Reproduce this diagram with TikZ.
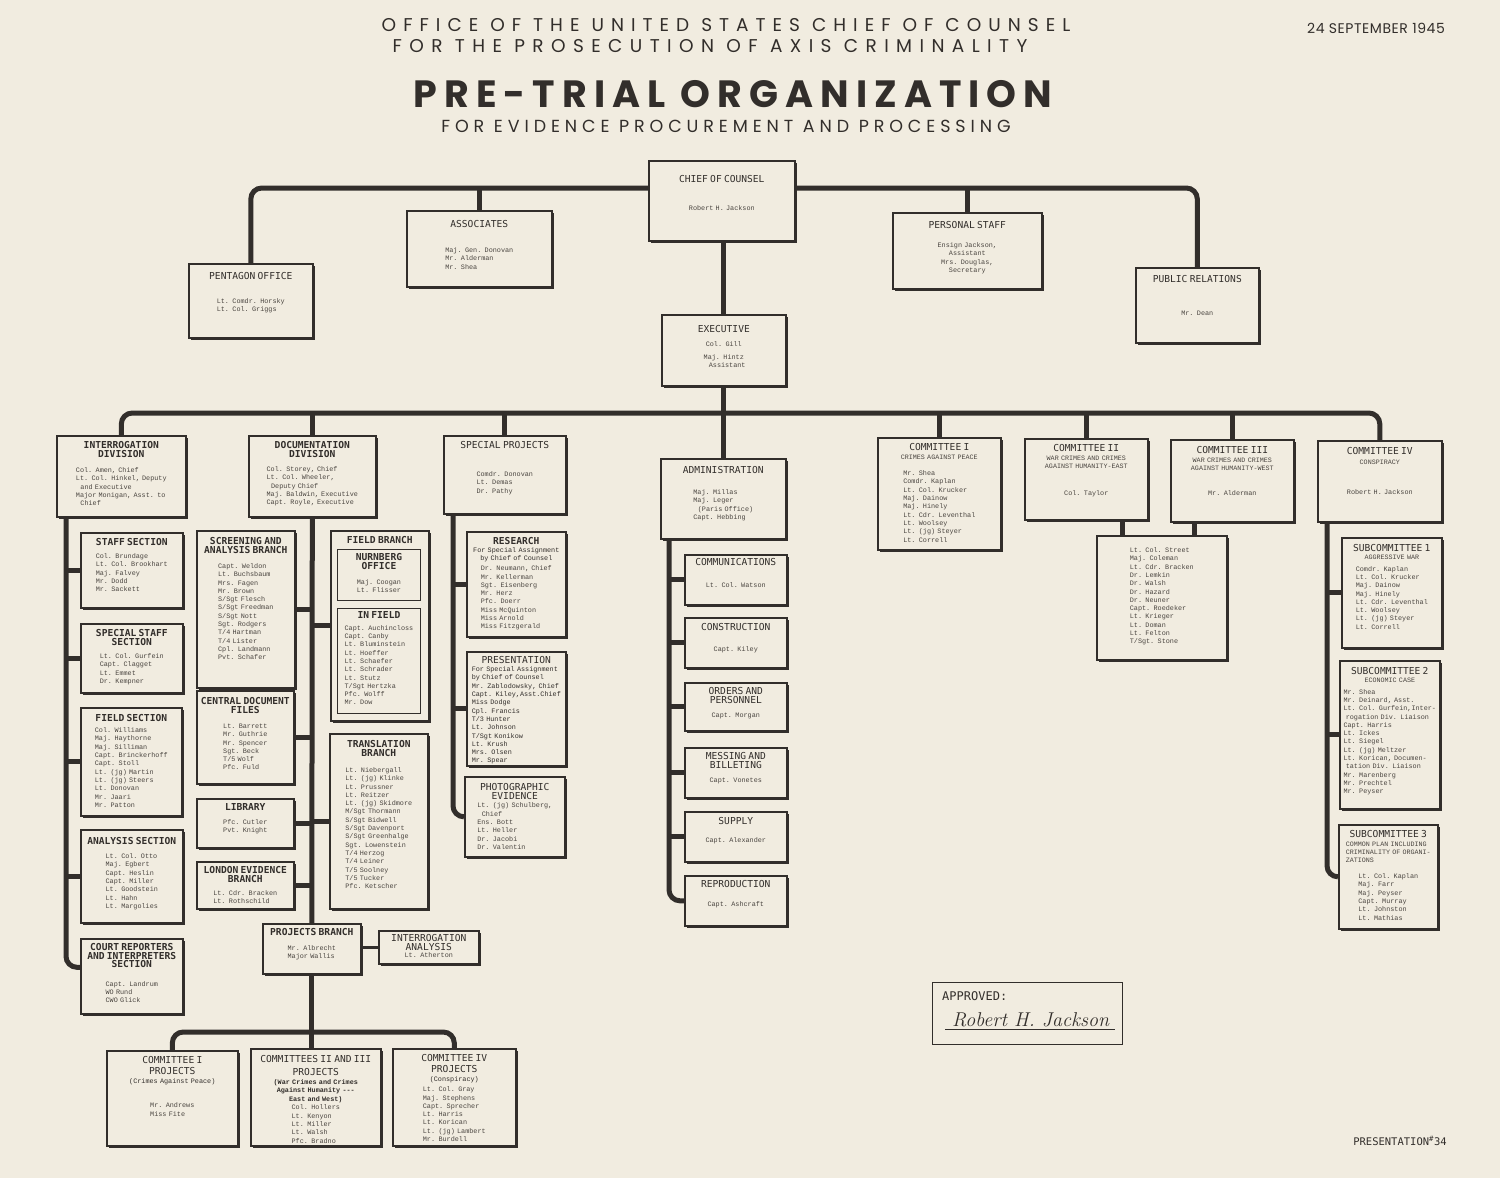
\documentclass[tikz,border=0pt]{standalone}
\usepackage{fontspec}
\usepackage{tikz}
\usetikzlibrary{shadows}
\newfontfamily\capsf{Poppins}
\newfontfamily\letf{DejaVu Sans Mono}
\newfontfamily\typef{Liberation Mono}
\definecolor{paper}{RGB}{241,236,224}
\definecolor{ink}{RGB}{50,46,43}
\definecolor{type}{RGB}{74,69,64}
\newcommand{\boxbody}{\typef\fontsize{6.8}{8.3}\selectfont}
\newcommand{\boxsub}{\typef\fontsize{6.7}{8}\selectfont}
\newcommand{\boxhead}{\leavevmode\color{ink}\letf\fontsize{9.6}{8.8}\selectfont}
\newcommand{\boxheadb}{\leavevmode\color{ink}\letf\bfseries\fontsize{9.6}{8.8}\selectfont}
\newcommand{\namelist}[1]{\begin{tabular}[t]{@{}l@{}}#1\end{tabular}}
\tikzset{unit/.style = {draw=ink, line width=1.6pt, fill=paper, anchor=north west,
                        inner sep=0pt, align=center, font=\boxbody, text=type,
                        drop shadow={shadow xshift=2.2pt, shadow yshift=-2.2pt, fill=ink, opacity=1}}}
\tikzset{inset/.style = {draw=ink, line width=0.9pt, fill=paper, anchor=north west,
                         inner sep=0pt, align=center, font=\boxbody, text=type}}
\tikzset{bar/.style = {draw=ink, line width=5pt, rounded corners=11pt}}
\tikzset{link/.style = {draw=ink, line width=3pt}}
\tikzset{banner/.style = {text=ink, inner sep=0pt,
                          font=\capsf\fontsize{18.5}{20}\selectfont\addfontfeature{LetterSpace=38}}}

\begin{document}
\begin{tikzpicture}[x=1pt, y=-1pt]
      \useasboundingbox (0, 0) rectangle (1500, 1178);
      \fill [paper] (0, 0) rectangle (1500, 1178);

      % heading
      \node [banner] (office) at (726, 25) {OFFICE OF THE UNITED STATES CHIEF OF COUNSEL};
      \node [banner, font=\capsf\fontsize{18.5}{20}\selectfont\addfontfeature{LetterSpace=40}] (prosec) at (710, 46) {FOR THE PROSECUTION OF AXIS CRIMINALITY};
      \node [banner, font=\capsf\fontsize{14}{16}\selectfont\addfontfeature{LetterSpace=4}] (date) at (1376, 28) {24 SEPTEMBER 1945};
      \node [banner, font=\capsf\bfseries\fontsize{38}{40}\selectfont\addfontfeature{LetterSpace=18.5}] (title) at (733, 94) {PRE-TRIAL ORGANIZATION};
      \node [banner, font=\capsf\fontsize{17.5}{20}\selectfont\addfontfeature{LetterSpace=28}] (subtitle) at (726, 126) {FOR EVIDENCE PROCUREMENT AND PROCESSING};

      % top level
      \node [unit, text width=146pt, text height=21.5pt, text depth=58.5pt] (chief) at (648, 160) {{\boxhead CHIEF OF COUNSEL\par}\vspace{20pt}Robert H. Jackson};
      \node [unit, text width=145pt, text height=16.5pt, text depth=59.5pt] (assoc) at (406, 210) {{\boxhead ASSOCIATES\par}\vspace{17pt}\namelist{Maj. Gen. Donovan\\Mr. Alderman\\Mr. Shea}};
      \node [unit, text width=149pt, text height=15.5pt, text depth=60.5pt] (staffp) at (892, 212) {{\boxhead PERSONAL STAFF\par}\vspace{11pt}Ensign Jackson,\\Assistant\\Mrs. Douglas,\\Secretary};
      \node [unit, text width=124pt, text height=15.5pt, text depth=58.5pt] (pentagon) at (188, 263) {{\boxhead PENTAGON OFFICE\par}\vspace{16pt}\namelist{Lt. Comdr. Horsky\\Lt. Col. Griggs}};
      \node [unit, text width=123pt, text height=14.5pt, text depth=60.5pt] (public) at (1135, 267) {{\boxhead PUBLIC RELATIONS\par}\vspace{25pt}Mr. Dean};
      \node [unit, text width=124pt, text height=17.5pt, text depth=53.5pt] (exec) at (661, 314) {{\boxhead EXECUTIVE\par}\vspace{6pt}Col. Gill\\[4.5pt]Maj. Hintz\\~~~Assistant};

      \coordinate (topbar) at (0, 188);
      \draw [bar] (pentagon.north) |- (chief.west |- topbar);
      \draw [bar] (chief.east |- topbar) -| (public.north);
      \draw [bar] (assoc.north) -- (assoc.north |- topbar);
      \draw [bar] (staffp.north) -- (staffp.north |- topbar);
      \draw [bar] (exec.north |- chief.south) -- (exec.north);

      % divisions
      \node [unit, text width=129pt, text height=12.5pt, text depth=68.5pt] (interr) at (56, 435) {{\boxheadb INTERROGATION\\DIVISION\par}\vspace{7pt}\namelist{Col. Amen, Chief\\Lt. Col. Hinkel, Deputy\\~~and Executive\\Major Monigan, Asst. to\\~~Chief}};
      \node [unit, text width=127pt, text height=12.5pt, text depth=68.5pt] (docu) at (248, 435) {{\boxheadb DOCUMENTATION\\DIVISION\par}\vspace{6pt}\namelist{Col. Storey, Chief\\Lt. Col. Wheeler,\\~~Deputy Chief\\Maj. Baldwin, Executive\\Capt. Royle, Executive}};
      \node [unit, text width=122pt, text height=12.5pt, text depth=65.5pt] (special) at (443, 435) {{\boxhead SPECIAL PROJECTS\par}\vspace{20pt}\namelist{Comdr. Donovan\\Lt. Demas\\Dr. Pathy}};
      \node [unit, text width=125pt, text height=14.5pt, text depth=65.5pt] (admin) at (660, 458) {{\boxhead ADMINISTRATION\par}\vspace{13pt}\namelist{Maj. Millas\\Maj. Leger\\~~(Paris Office)\\Capt. Hebbing}};
      \node [unit, text width=123pt, text height=12.5pt, text depth=99.5pt] (comI) at (877, 437) {{\boxhead COMMITTEE I\par}\vspace{1pt}{\boxsub CRIMES AGAINST PEACE\par}\vspace{8pt}\namelist{Mr. Shea\\Comdr. Kaplan\\Lt. Col. Krucker\\Maj. Dainow\\Maj. Hinely\\Lt. Cdr. Leventhal\\Lt. Woolsey\\Lt. (jg) Steyer\\Lt. Correll}};
      \node [unit, text width=123pt, text height=12.5pt, text depth=68.5pt] (comII) at (1024, 438) {{\boxhead COMMITTEE II\par}\vspace{1pt}{\boxsub WAR CRIMES AND CRIMES\\AGAINST HUMANITY-EAST\par}\vspace{19pt}Col. Taylor};
      \node [unit, text width=123pt, text height=13.5pt, text depth=68.5pt] (comIII) at (1170, 439) {{\boxhead COMMITTEE III\par}\vspace{1pt}{\boxsub WAR CRIMES AND CRIMES\\AGAINST HUMANITY-WEST\par}\vspace{17pt}Mr. Alderman};
      \node [unit, text width=124pt, text height=13.5pt, text depth=67.5pt] (comIV) at (1317, 440) {{\boxhead COMMITTEE IV\par}\vspace{2pt}{\boxsub CONSPIRACY\par}\vspace{22pt}Robert H. Jackson};
      \node [unit, text width=130pt, text height=16.7pt, text depth=107.3pt] (joint) at (1096, 535) {\namelist{Lt. Col. Street\\Maj. Coleman\\Lt. Cdr. Bracken\\Dr. Lemkin\\Dr. Walsh\\Dr. Hazard\\Dr. Neuner\\Capt. Roedeker\\Lt. Krieger\\Lt. Doman\\Lt. Felton\\T/Sgt. Stone}};

      \coordinate (midbar) at (0, 413);
      \draw [bar] (interr.north) |- (comIV.north |- midbar) -- (comIV.north);
      \draw [bar] (exec.south) -- (exec.south |- admin.north);
      \foreach \n in {docu, special, comI, comII, comIII}
        \draw [bar] (\n.north) -- (\n.north |- midbar);
      \coordinate (jointa) at ([xshift=26pt]joint.north west);
      \coordinate (jointb) at ([xshift=-33pt]joint.north east);
      \draw [bar] (jointa) -- (jointa |- comII.south);
      \draw [bar] (jointb) -- (jointb |- comIII.south);

      % interrogation division
      \node [unit, text width=102pt, text height=12.5pt, text depth=62.5pt] (staff) at (80, 532) {{\boxheadb STAFF SECTION\par}\vspace{5pt}\namelist{Col. Brundage\\Lt. Col. Brookhart\\Maj. Falvey\\Mr. Dodd\\Mr. Sackett}};
      \node [unit, text width=102pt, text height=12.5pt, text depth=56.5pt] (spstaff) at (80, 623) {{\boxheadb SPECIAL STAFF\\SECTION\par}\vspace{5pt}\namelist{Lt. Col. Gurfein\\Capt. Clagget\\Lt. Emmet\\Dr. Kempner}};
      \node [unit, text width=101pt, text height=13.5pt, text depth=94.5pt] (fieldsec) at (80, 707) {{\boxheadb FIELD SECTION\par}\vspace{3pt}\namelist{Col. Williams\\Maj. Haythorne\\Maj. Silliman\\Capt. Brinckerhoff\\Capt. Stoll\\Lt. (jg) Martin\\Lt. (jg) Steers\\Lt. Donovan\\Mr. Jaari\\Mr. Patton}};
      \node [unit, text width=102pt, text height=14.5pt, text depth=78.5pt] (analysis) at (80, 829) {{\boxheadb ANALYSIS SECTION\par}\vspace{6pt}\namelist{Lt. Col. Otto\\Maj. Egbert\\Capt. Heslin\\Capt. Miller\\Lt. Goodstein\\Lt. Hahn\\Lt. Margolies}};
      \node [unit, text width=102pt, text height=11.5pt, text depth=63.5pt] (court) at (80, 938) {{\boxheadb COURT REPORTERS\\AND INTERPRETERS\\SECTION\par}\vspace{10pt}\namelist{Capt. Landrum\\WO Rund\\CWO Glick}};

      \coordinate (ispine) at ([xshift=10pt]interr.south west);
      \draw [bar] (ispine) |- ([yshift=9pt]court.west);
      \foreach \n in {staff, spstaff, fieldsec, analysis}
        \draw [bar] (\n.west) -- (\n.west -| ispine);

      % documentation division
      \node [unit, text width=98pt, text height=13.5pt, text depth=143.5pt] (screen) at (196, 530) {{\boxheadb SCREENING AND\\ANALYSIS BRANCH\par}\vspace{7pt}\namelist{Capt. Weldon\\Lt. Buchsbaum\\Mrs. Fagen\\Mr. Brown\\S/Sgt Flesch\\S/Sgt Freedman\\S/Sgt Nott\\Sgt. Rodgers\\T/4 Hartman\\T/4 Lister\\Cpl. Landmann\\Pvt. Schafer}};
      \node [unit, text width=97pt, text height=13.5pt, text depth=79.5pt] (central) at (196, 690) {{\boxheadb CENTRAL DOCUMENT\\FILES\par}\vspace{7pt}\namelist{Lt. Barrett\\Mr. Guthrie\\Mr. Spencer\\Sgt. Beck\\T/5 Wolf\\Pfc. Fuld}};
      \node [unit, text width=97pt, text height=11.5pt, text depth=37.5pt] (library) at (196, 798) {{\boxheadb LIBRARY\par}\vspace{6pt}\namelist{Pfc. Cutler\\Pvt. Knight}};
      \node [unit, text width=97pt, text height=11.5pt, text depth=35.5pt] (london) at (196, 861) {{\boxheadb LONDON EVIDENCE\\BRANCH\par}\vspace{5pt}\namelist{Lt. Cdr. Bracken\\Lt. Rothschild}};
      \node [unit, text width=98pt, text height=12.5pt, text depth=177.5pt] (fieldbr) at (330, 530) {{\boxheadb FIELD BRANCH\par}};
      \node [inset, text width=83pt, text height=11.5pt, text depth=39.5pt] (nurnberg) at (337, 549) {{\boxheadb NURNBERG\\OFFICE\par}\vspace{6pt}\namelist{Maj. Coogan\\Lt. Flisser}};
      \node [inset, text width=83pt, text height=10.5pt, text depth=94.5pt] (infield) at (337, 608) {{\boxheadb IN FIELD\par}\vspace{3pt}\namelist{Capt. Auchincloss\\Capt. Canby\\Lt. Bluminstein\\Lt. Hoeffer\\Lt. Schaefer\\Lt. Schrader\\Lt. Stutz\\T/Sgt Hertzka\\Pfc. Wolff\\Mr. Dow}};
      \node [unit, text width=98pt, text height=13.5pt, text depth=161.5pt] (transl) at (329, 733) {{\boxheadb TRANSLATION\\BRANCH\par}\vspace{8pt}\namelist{Lt. Niebergall\\Lt. (jg) Klinke\\Lt. Prussner\\Lt. Reitzer\\Lt. (jg) Skidmore\\M/Sgt Thormann\\S/Sgt Bidwell\\S/Sgt Davenport\\S/Sgt Greenhalge\\Sgt. Lowenstein\\T/4 Herzog\\T/4 Leiner\\T/5 Soolney\\T/5 Tucker\\Pfc. Ketscher}};
      \node [unit, text width=98pt, text height=11.5pt, text depth=38.5pt] (projbr) at (262, 923) {{\boxheadb PROJECTS BRANCH\par}\vspace{7pt}\namelist{Mr. Albrecht\\Major Wallis}};
      \node [unit, text width=100pt, text height=10.5pt, text depth=22.5pt] (ianal) at (378, 930) {{\boxhead INTERROGATION\\ANALYSIS\par}\vspace{-1pt}Lt. Atherton};

      \draw [bar] (docu.south) -- (projbr.north);
      \foreach \n in {screen, central, library, london}
        \draw [bar] (\n.east) -- (\n.east -| docu.south);
      \foreach \n in {fieldbr, transl}
        \draw [bar] (\n.west) -- (\n.west -| docu.south);
      \draw [link] (ianal.west -| projbr.east) -- (ianal.west);

      % special projects
      \node [unit, text width=99pt, text height=12.5pt, text depth=92.5pt] (research) at (466, 531) {{\boxheadb RESEARCH\par}{\color{ink}For Special Assignment\\by Chief of Counsel\par}\vspace{1.5pt}\namelist{Dr. Neumann, Chief\\Mr. Kellerman\\Sgt. Eisenberg\\Mr. Herz\\Pfc. Doerr\\Miss McQuinton\\Miss Arnold\\Miss Fitzgerald}};
      \node [unit, text width=99pt, text height=11.5pt, text depth=102.5pt] (present) at (466, 651) {{\boxhead PRESENTATION\par}\color{ink}\namelist{For Special Assignment\\by Chief of Counsel\\Mr. Zablodowsky, Chief\\Capt. Kiley,Asst.Chief\\Miss Dodge\\Cpl. Francis\\T/3 Hunter\\Lt. Johnson\\T/Sgt Konikow\\Lt. Krush\\Mrs. Olsen\\Mr. Spear}};
      \node [unit, text width=100pt, text height=13.5pt, text depth=66.5pt] (photo) at (464, 776) {{\boxhead PHOTOGRAPHIC\\EVIDENCE\par}\vspace{0.5pt}\namelist{Lt. (jg) Schulberg,\\~~Chief\\Ens. Bott\\Lt. Heller\\Dr. Jacobi\\Dr. Valentin}};

      \coordinate (sspine) at ([xshift=10pt]special.south west);
      \draw [bar] (sspine) |- (photo.west);
      \foreach \n in {research, present}
        \draw [bar] (\n.west) -- (\n.west -| sspine);

      % administration
      \node [unit, text width=102pt, text height=10.5pt, text depth=39.5pt] (comms) at (684, 554) {{\boxhead COMMUNICATIONS\par}\vspace{14pt}Lt. Col. Watson};
      \node [unit, text width=102pt, text height=12.5pt, text depth=37.5pt] (constr) at (684, 617) {{\boxhead CONSTRUCTION\par}\vspace{13pt}Capt. Kiley};
      \node [unit, text width=102pt, text height=11.5pt, text depth=36.5pt] (orders) at (684, 682) {{\boxhead ORDERS AND\\PERSONNEL\par}\vspace{6pt}Capt. Morgan};
      \node [unit, text width=102pt, text height=11.5pt, text depth=38.5pt] (messing) at (684, 747) {{\boxhead MESSING AND\\BILLETING\par}\vspace{6pt}Capt. Vonetes};
      \node [unit, text width=102pt, text height=12.5pt, text depth=37.5pt] (supply) at (684, 811) {{\boxhead SUPPLY\par}\vspace{10pt}Capt. Alexander};
      \node [unit, text width=102pt, text height=11.5pt, text depth=38.5pt] (repro) at (684, 875) {{\boxhead REPRODUCTION\par}\vspace{11pt}Capt. Ashcraft};

      \coordinate (aspine) at ([xshift=9pt]admin.south west);
      \draw [bar] (aspine) |- (repro.west);
      \foreach \n in {comms, constr, orders, messing, supply}
        \draw [bar] (\n.west) -- (\n.west -| aspine);

      % committee iv
      \node [unit, text width=100pt, text height=13.5pt, text depth=96.5pt] (sub1) at (1341, 537) {{\boxhead SUBCOMMITTEE 1\par}{\boxsub AGGRESSIVE WAR\par}\vspace{3.5pt}\namelist{Comdr. Kaplan\\Lt. Col. Krucker\\Maj. Dainow\\Maj. Hinely\\Lt. Cdr. Leventhal\\Lt. Woolsey\\Lt. (jg) Steyer\\Lt. Correll}};
      \node [unit, text width=100pt, text height=13.5pt, text depth=134.5pt] (sub2) at (1339, 660) {{\boxhead SUBCOMMITTEE 2\par}{\boxsub ECONOMIC CASE\par}\vspace{3.5pt}\namelist{Mr. Shea\\Mr. Deinard, Asst.\\Lt. Col. Gurfein,Inter-\\~rogation Div. Liaison\\Capt. Harris\\Lt. Ickes\\Lt. Siegel\\Lt. (jg) Meltzer\\Lt. Korican, Documen-\\~tation Div. Liaison\\Mr. Marenberg\\Mr. Prechtel\\Mr. Peyser}};
      \node [unit, text width=99pt, text height=12.5pt, text depth=91.5pt] (sub3) at (1338, 824) {{\boxhead SUBCOMMITTEE 3\par}\vspace{1.5pt}{\boxsub\namelist{COMMON PLAN INCLUDING\\CRIMINALITY OF ORGANI-\\ZATIONS}\par}\vspace{6.5pt}\namelist{Lt. Col. Kaplan\\Maj. Farr\\Maj. Peyser\\Capt. Murray\\Lt. Johnston\\Lt. Mathias}};

      \coordinate (cspine) at ([xshift=10pt]comIV.south west);
      \draw [bar] (cspine) |- (sub3.west);
      \foreach \n in {sub1, sub2}
        \draw [bar] (\n.west) -- (\n.west -| cspine);

      % projects
      \node [unit, text width=131pt, text height=12.5pt, text depth=82.5pt] (proj1) at (106, 1050) {{\boxhead COMMITTEE I\\[2pt]PROJECTS\par}\vspace{1pt}{\color{ink}(Crimes Against Peace)\par}\vspace{16pt}\namelist{Mr. Andrews\\Miss Fite}};
      \node [unit, text width=130pt, text height=13.5pt, text depth=83.5pt] (proj23) at (250, 1048) {{\boxhead COMMITTEES II AND III\\[4pt]PROJECTS\par}\vspace{1pt}{\color{ink}\bfseries (War Crimes and Crimes\\Against Humanity ---\\East and West)\par}\vspace{0.5pt}\namelist{Col. Hollers\\Lt. Kenyon\\Lt. Miller\\Lt. Walsh\\Pfc. Bradno}};
      \node [unit, text width=123pt, text height=12.5pt, text depth=84.5pt] (proj4) at (392, 1048) {{\boxhead COMMITTEE IV\\[2pt]PROJECTS\par}\vspace{1pt}{\color{ink}(Conspiracy)\par}\vspace{2pt}\namelist{Lt. Col. Gray\\Maj. Stephens\\Capt. Sprecher\\Lt. Harris\\Lt. Korican\\Lt. (jg) Lambert\\Mr. Burdell}};

      \coordinate (lowbar) at (0, 1032);
      \draw [bar] (proj1.north) |- (proj4.north |- lowbar) -- (proj4.north);
      \draw [bar] (projbr.south) -- (projbr.south |- proj23.north);

      % approval
      \node [draw=ink, line width=0.8pt, anchor=north west, minimum width=190, minimum height=62, inner sep=0pt] (approve) at (932, 982) {};
      \node [anchor=west, inner sep=0pt, text=ink, font=\letf\fontsize{12}{12}\selectfont] (approvtxt) at (942, 996) {APPROVED:};
      \draw [ink, line width=0.6pt] ([xshift=13pt, yshift=16pt]approve.south west) -- ([xshift=-8pt, yshift=16pt]approve.south east);
      \node [anchor=base west, inner sep=0pt, text=ink, font=\itshape\fontsize{20}{20}\selectfont] (sign) at (952, 1026) {Robert H. Jackson};
      \node [inner sep=0pt, text=ink, font=\letf\fontsize{10.5}{10}\selectfont] (presno) at (1400, 1141) {PRESENTATION\textsuperscript{\#}34};
    \end{tikzpicture}
\end{document}
